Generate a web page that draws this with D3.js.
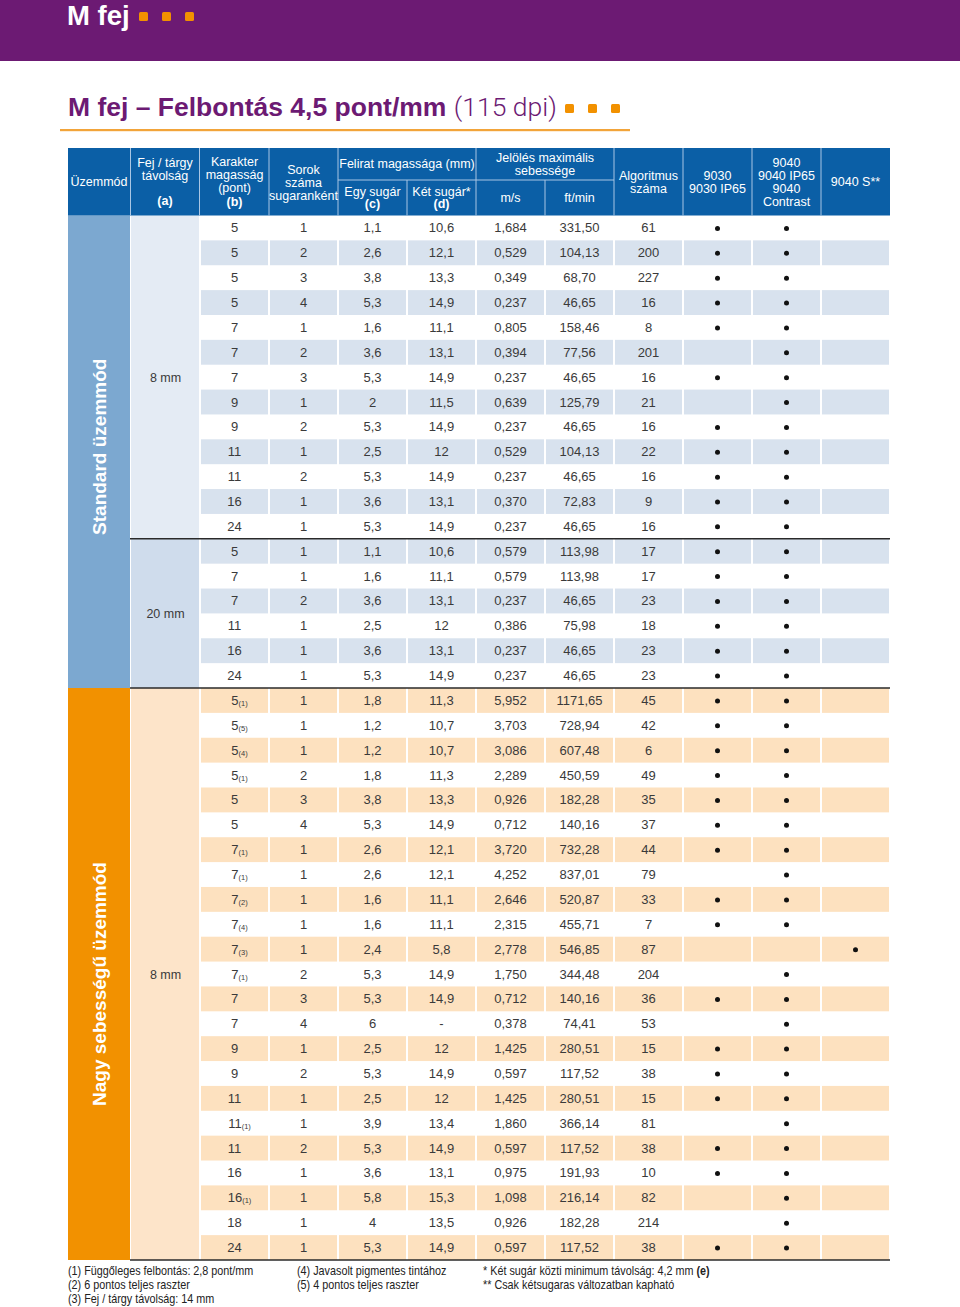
<!DOCTYPE html>
<html><head><meta charset="utf-8">
<script src="https://cdn.jsdelivr.net/npm/d3@7/dist/d3.min.js"></script>
<style>
html,body{margin:0;padding:0;background:#fff;}
svg{display:block;}
</style>
</head><body>
<svg id="c" width="960" height="1307"></svg>
<script>
// ---------- DATA ----------
const modeLabels = ["Standard üzemmód", "Nagy sebességű üzemmód"];
const modeRowCounts = [19, 23];
const distanceLabels = ["8 mm", "20 mm", "8 mm"];
const distanceRowCounts = [13, 6, 23];

const charHeight = [5,5,5,5,7,7,7,9,9,11,11,16,24, 5,7,7,11,16,24,
  5,5,5,5,5,5, 7,7,7,7,7,7,7,7, 9,9, 11,11,11, 16,16, 18,24];
const charNote = ["","","","","","","","","","","","","", "","","","","","",
  "(1)","(5)","(4)","(1)","","", "(1)","(1)","(2)","(4)","(3)","(1)","","", "","", "","(1)","", "","(1)", "",""];
const lineCount = [1,2,3,4,1,2,3,1,2,1,2,1,1, 1,1,2,1,1,1,
  1,1,1,2,3,4, 1,1,1,1,1,2,3,4, 1,2, 1,1,2, 1,1, 1,1];
const heightSingle = ["1,1","2,6","3,8","5,3","1,6","3,6","5,3","2","5,3","2,5","5,3","3,6","5,3",
  "1,1","1,6","3,6","2,5","3,6","5,3",
  "1,8","1,2","1,2","1,8","3,8","5,3", "2,6","2,6","1,6","1,6","2,4","5,3","5,3","6",
  "2,5","5,3", "2,5","3,9","5,3", "3,6","5,8", "4","5,3"];
const heightDouble = ["10,6","12,1","13,3","14,9","11,1","13,1","14,9","11,5","14,9","12","14,9","13,1","14,9",
  "10,6","11,1","13,1","12","13,1","14,9",
  "11,3","10,7","10,7","11,3","13,3","14,9", "12,1","12,1","11,1","11,1","5,8","14,9","14,9","-",
  "12","14,9", "12","13,4","14,9", "13,1","15,3", "13,5","14,9"];
const speedMs = ["1,684","0,529","0,349","0,237","0,805","0,394","0,237","0,639","0,237","0,529","0,237","0,370","0,237",
  "0,579","0,579","0,237","0,386","0,237","0,237",
  "5,952","3,703","3,086","2,289","0,926","0,712", "3,720","4,252","2,646","2,315","2,778","1,750","0,712","0,378",
  "1,425","0,597", "1,425","1,860","0,597", "0,975","1,098", "0,926","0,597"];
const speedFt = ["331,50","104,13","68,70","46,65","158,46","77,56","46,65","125,79","46,65","104,13","46,65","72,83","46,65",
  "113,98","113,98","46,65","75,98","46,65","46,65",
  "1171,65","728,94","607,48","450,59","182,28","140,16", "732,28","837,01","520,87","455,71","546,85","344,48","140,16","74,41",
  "280,51","117,52", "280,51","366,14","117,52", "191,93","216,14", "182,28","117,52"];
const algorithm = [61,200,227,16,8,201,16,21,16,22,16,9,16, 17,17,23,18,23,23,
  45,42,6,49,35,37, 44,79,33,7,87,204,36,53, 15,38, 15,81,38, 10,82, 214,38];
const model9030 = [1,1,1,1,1,0,1,0,1,1,1,1,1, 1,1,1,1,1,1,
  1,1,1,1,1,1, 1,0,1,1,0,0,1,0, 1,1, 1,0,1, 1,0, 0,1];
const model9040 = [1,1,1,1,1,1,1,1,1,1,1,1,1, 1,1,1,1,1,1,
  1,1,1,1,1,1, 1,1,1,1,0,1,1,1, 1,1, 1,1,1, 1,1, 1,1];
const model9040S = [0,0,0,0,0,0,0,0,0,0,0,0,0, 0,0,0,0,0,0,
  0,0,0,0,0,0, 0,0,0,0,1,0,0,0, 0,0, 0,0,0, 0,0, 0,0];

const footnotes = [
  ["(1) Függőleges felbontás: 2,8 pont/mm", "(2) 6 pontos teljes raszter", "(3) Fej / tárgy távolság: 14 mm"],
  ["(4) Javasolt pigmentes tintához", "(5) 4 pontos teljes raszter"],
  ["* Két sugár közti minimum távolság: 4,2 mm |(e)", "** Csak kétsugaras változatban kapható"]
];

// ---------- STYLE ----------
const PURPLE = "#6c1a73", ORANGE = "#f29100", HEAD = "#0b5fa6";
const FONT = "'Liberation Sans', Arial, sans-serif";
const TXT = "#3a3a3a";

const svg = d3.select("#c");
const nRows = charHeight.length;

// banner
svg.append("rect").attr("x",0).attr("y",0).attr("width",960).attr("height",61).attr("fill",PURPLE);
svg.append("text").attr("x",67).attr("y",25).attr("font-family",FONT).attr("font-weight","bold")
  .attr("font-size",27.5).attr("fill","#fff").text("M fej");
[139,162,185].forEach(x=>svg.append("rect").attr("x",x).attr("y",12).attr("width",9).attr("height",9).attr("rx",1.5).attr("fill",ORANGE));

// subtitle
const st = svg.append("text").attr("x",68).attr("y",116).attr("font-family",FONT).attr("font-size",26.5).attr("fill",PURPLE);
st.append("tspan").attr("font-weight","bold").text("M fej – Felbontás 4,5 pont/mm ");
st.append("tspan").attr("font-family","Roboto, sans-serif").attr("font-weight",300).text("(115 dpi)");
[565,588,611].forEach(x=>svg.append("rect").attr("x",x).attr("y",104).attr("width",9).attr("height",9).attr("rx",1.5).attr("fill",ORANGE));
svg.append("rect").attr("x",60).attr("y",129).attr("width",570).attr("height",2.2).attr("fill","#f2a43a");

// scales
const y = d3.scaleBand().domain(d3.range(nRows)).range([215.5, 1260]);
const colKeys = ["b","rows","c","d","ms","ft","algo","m1","m2","m3"];
const x = d3.scaleBand().domain(colKeys).range([200, 890]);
const xMode = [68, 130], xDist = [131, 200];

// group helpers
function groups(counts){ let s=0; return counts.map(c=>{const g={start:s,end:s+c}; s+=c; return g;}); }
const modeGroups = groups(modeRowCounts);
const distGroups = groups(distanceRowCounts);
const isHigh = i => i >= modeGroups[1].start;

// row backgrounds (cells)
const cells = [];
for (let i=0;i<nRows;i++) colKeys.forEach(k=>cells.push({i,k}));
svg.append("g").selectAll("rect").data(cells.filter(d=>d.i%2===1)).join("rect")
  .attr("x",d=>x(d.k)+1).attr("y",d=>y(d.i)).attr("width",x.bandwidth()-2).attr("height",y.bandwidth())
  .attr("fill",d=>isHigh(d.i)?"#fde1bf":"#d8e2ee");

// mode column
const modeColors = ["#7ca8d0", ORANGE];
svg.append("g").selectAll("rect").data(modeGroups).join("rect")
  .attr("x",xMode[0]).attr("y",d=>y(d.start)).attr("width",xMode[1]-xMode[0])
  .attr("height",d=>y(d.end-1)+y.bandwidth()-y(d.start)).attr("fill",(d,i)=>modeColors[i]);
svg.append("g").selectAll("text").data(modeGroups).join("text")
  .attr("transform",(d,i)=>{const cy=(y(d.start)+y(d.end-1)+y.bandwidth())/2 + (i===0?-5:10); return `translate(${(xMode[0]+xMode[1])/2+7},${cy}) rotate(-90)`;})
  .attr("text-anchor","middle").attr("font-family",FONT).attr("font-weight","bold").attr("font-size",19)
  .attr("fill","#fff").text((d,i)=>modeLabels[i]);

// distance column
const distColors = ["#e4ebf4","#cfdcec","#fde4c9"];
svg.append("g").selectAll("rect").data(distGroups).join("rect")
  .attr("x",xDist[0]).attr("y",d=>y(d.start)).attr("width",xDist[1]-xDist[0]-1)
  .attr("height",d=>y(d.end-1)+y.bandwidth()-y(d.start)).attr("fill",(d,i)=>distColors[i]);
svg.append("g").selectAll("text").data(distGroups).join("text")
  .attr("x",(xDist[0]+xDist[1])/2).attr("y",d=>(y(d.start)+y(d.end-1)+y.bandwidth())/2+4.5)
  .attr("text-anchor","middle").attr("font-family",FONT).attr("font-size",12.5).attr("fill",TXT)
  .text((d,i)=>distanceLabels[i]);

// separators
[distGroups[1].start, modeGroups[1].start].forEach(r=>{
  svg.append("line").attr("x1",xDist[0]-1).attr("x2",890).attr("y1",y(r)).attr("y2",y(r)).attr("stroke","#2a2a2a").attr("stroke-width",1.4);
});
svg.append("line").attr("x1",xDist[0]-1).attr("x2",890).attr("y1",y(nRows-1)+y.bandwidth()).attr("y2",y(nRows-1)+y.bandwidth()).attr("stroke","#2a2a2a").attr("stroke-width",1.4);

// data text
const colData = {rows:lineCount, c:heightSingle, d:heightDouble, ms:speedMs, ft:speedFt, algo:algorithm};
const tg = svg.append("g").attr("font-family",FONT).attr("font-size",13).attr("fill",TXT).attr("text-anchor","middle");
Object.keys(colData).forEach(k=>{
  tg.append("g").selectAll("text").data(colData[k]).join("text")
    .attr("x",x(k)+x.bandwidth()/2).attr("y",(d,i)=>y(i)+y.bandwidth()/2+4.5).text(d=>d);
});
// char height with note subscripts
const bt = tg.append("g").selectAll("text").data(charHeight).join("text")
  .attr("x",(d,i)=>x("b")+x.bandwidth()/2 + (charNote[i] ? 5 : 0))
  .attr("y",(d,i)=>y(i)+y.bandwidth()/2+4.5);
bt.append("tspan").text(d=>d);
bt.append("tspan").attr("font-size",7.5).attr("dy",1).text((d,i)=>charNote[i]);

// model dots
[["m1",model9030],["m2",model9040],["m3",model9040S]].forEach(([k,arr])=>{
  svg.append("g").selectAll("circle").data(arr.map((v,i)=>({v,i})).filter(d=>d.v)).join("circle")
    .attr("cx",x(k)+x.bandwidth()/2).attr("cy",d=>y(d.i)+y.bandwidth()/2+0.5).attr("r",2.5).attr("fill","#111");
});

// header
const hTop = 148, hBot = 215.5, hMid = 180;
svg.append("rect").attr("x",68).attr("y",hTop).attr("width",890-68).attr("height",hBot-hTop).attr("fill",HEAD);
const sep = (x1,y1,x2,y2)=>svg.append("line").attr("x1",x1).attr("y1",y1).attr("x2",x2).attr("y2",y2).attr("stroke","#a9c6e4").attr("stroke-width",1);
[130.5, 199.5].forEach(v=>sep(v,hTop,v,hBot));
colKeys.forEach((k,i)=>{ if(i>0){ const xx=x(k); const partial=(k==="d"||k==="ft"); sep(xx,partial?hMid:hTop,xx,hBot);} });
sep(x("c"),hMid,x("ft")+x.bandwidth(),hMid);

const hdr = svg.append("g").attr("font-family",FONT).attr("font-size",12.5).attr("fill","#fff").attr("text-anchor","middle");
function hText(cx, lines){
  lines.forEach(([t,yy,b])=>hdr.append("text").attr("x",cx).attr("y",yy).attr("font-weight",b?"bold":null).text(t));
}
const cx = k => x(k)+x.bandwidth()/2;
hText(99,[["Üzemmód",186]]);
hText(165,[["Fej / tárgy",167],["távolság",180],["(a)",205,1]]);
hText(cx("b"),[["Karakter",166],["magasság",179],["(pont)",192],["(b)",206,1]]);
hText(cx("rows"),[["Sorok",174],["száma",187],["sugaranként",200]]);
hText(x("d"),[["Felirat magassága (mm)",168]]);
hText(cx("c"),[["Egy sugár",196],["(c)",208,1]]);
hText(cx("d"),[["Két sugár*",196],["(d)",208,1]]);
hText(x("ft"),[["Jelölés maximális",162],["sebessége",175]]);
hText(cx("ms"),[["m/s",202]]);
hText(cx("ft"),[["ft/min",202]]);
hText(cx("algo"),[["Algoritmus",180],["száma",193]]);
hText(cx("m1"),[["9030",180],["9030 IP65",193]]);
hText(cx("m2"),[["9040",167],["9040 IP65",180],["9040",193],["Contrast",206]]);
hText(cx("m3"),[["9040 S**",186]]);

// footnotes
const fx = [68, 297, 483];
const fg = svg.append("g").attr("font-family",FONT).attr("font-size",12).attr("fill","#222");
footnotes.forEach((col,ci)=>col.forEach((t,li)=>{
  const te = fg.append("text").attr("transform",`translate(${fx[ci]},${1275+li*14}) scale(0.9,1)`);
  const parts = t.split("|");
  te.append("tspan").text(parts[0]);
  if(parts[1]) te.append("tspan").attr("font-weight","bold").text(parts[1]);
}));
</script>
</body></html>
